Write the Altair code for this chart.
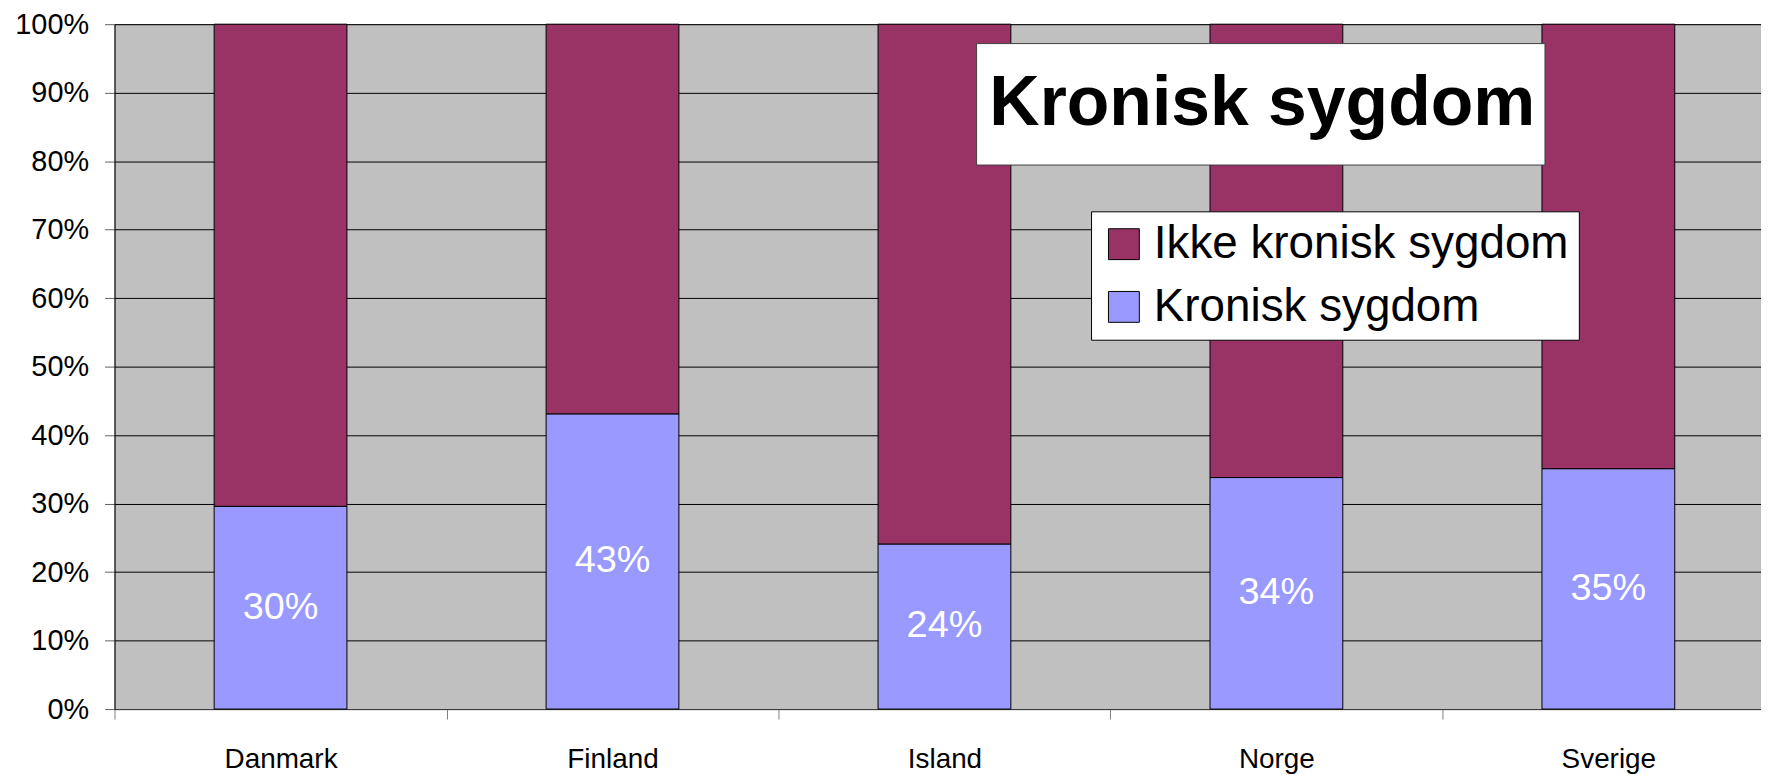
import altair as alt
import pandas as pd

countries = ["Danmark", "Finland", "Island", "Norge", "Sverige"]
kronisk = [0.296, 0.431, 0.241, 0.338, 0.351]
series = ["Ikke kronisk sygdom", "Kronisk sygdom"]
colors = ["#993366", "#9999FF"]
y_ticks = [i / 10 for i in range(11)]
title_text = "Kronisk sygdom"

rows = []
for c, k in zip(countries, kronisk):
    rows.append({"land": c, "serie": series[1], "andel": k, "rank": 0})
    rows.append({"land": c, "serie": series[0], "andel": 1 - k, "rank": 1})
df = pd.DataFrame(rows)
lab = pd.DataFrame({"land": countries, "k": kronisk})
lab["mid"] = lab["k"] / 2

FONT = "Liberation Sans"
W, H = 1654, 688
STEP = 333.5

x = alt.X("land:N", sort=countries, title=None,
          scale=alt.Scale(paddingInner=0.6, paddingOuter=0.28, align=0.536),
          axis=alt.Axis(labelAngle=0, labelFontSize=28, labelColor="#000000",
                        labelPadding=27, tickOffset=-STEP / 2, labelOffset=STEP / 2,
                        tickSize=10, tickColor="#808080", domainColor="#404040",
                        grid=False, labelFont=FONT))

bars = alt.Chart(df).mark_bar(stroke="#000000", strokeWidth=1).encode(
    x=x,
    y=alt.Y("andel:Q", stack="zero", title=None,
            scale=alt.Scale(domain=[0, 1], nice=False),
            axis=alt.Axis(values=y_ticks, format=".0%", labelFontSize=29,
                          labelColor="#000000", labelPadding=16, tickSize=10,
                          tickColor="#606060", domainColor="#000000",
                          grid=True, gridColor="#000000", gridWidth=1,
                          labelFont=FONT)),
    color=alt.Color("serie:N", scale=alt.Scale(domain=series, range=colors),
                    legend=alt.Legend(title=None, orient="none", legendX=981, legendY=188,
                                      fillColor="#FFFFFF", strokeColor="#000000",
                                      padding=10, symbolType="square", symbolSize=961,
                                      symbolStrokeColor="#000000", symbolStrokeWidth=1,
                                      labelFontSize=46, labelFont=FONT, labelColor="#000000",
                                      labelOffset=7, rowPadding=17, labelLimit=600)),
    order=alt.Order("rank:Q"),
)

labels = alt.Chart(lab).mark_text(color="#FFFFFF", fontSize=38, font=FONT,
                                  baseline="middle").encode(
    x=alt.X("land:N", sort=countries),
    y=alt.Y("mid:Q"),
    text=alt.Text("k:Q", format=".0%"),
)

title_box = alt.Chart(pd.DataFrame({"t": [title_text]})).mark_rect(
    fill="#FFFFFF", stroke="#404040", strokeWidth=1).encode(
    x=alt.value(866), x2=alt.value(1437), y=alt.value(19.5), y2=alt.value(141.5))

title = alt.Chart(pd.DataFrame({"t": [title_text]})).mark_text(
    fontSize=70, fontWeight="bold", font=FONT, color="#000000",
    align="center", baseline="middle").encode(
    x=alt.value(1153), y=alt.value(80), text="t:N")

chart = alt.layer(bars, labels, title_box, title).properties(
    width=W, height=H,
    autosize=alt.AutoSizeParams(type="none"),
    padding={"left": 107, "top": 14.5, "right": 0, "bottom": 64},
    background="#FFFFFF",
).configure(font=FONT).configure_view(fill="#C0C0C0", stroke="#808080", strokeWidth=1)

chart.save("out.html", embed_options={"renderer": "svg", "actions": False})
